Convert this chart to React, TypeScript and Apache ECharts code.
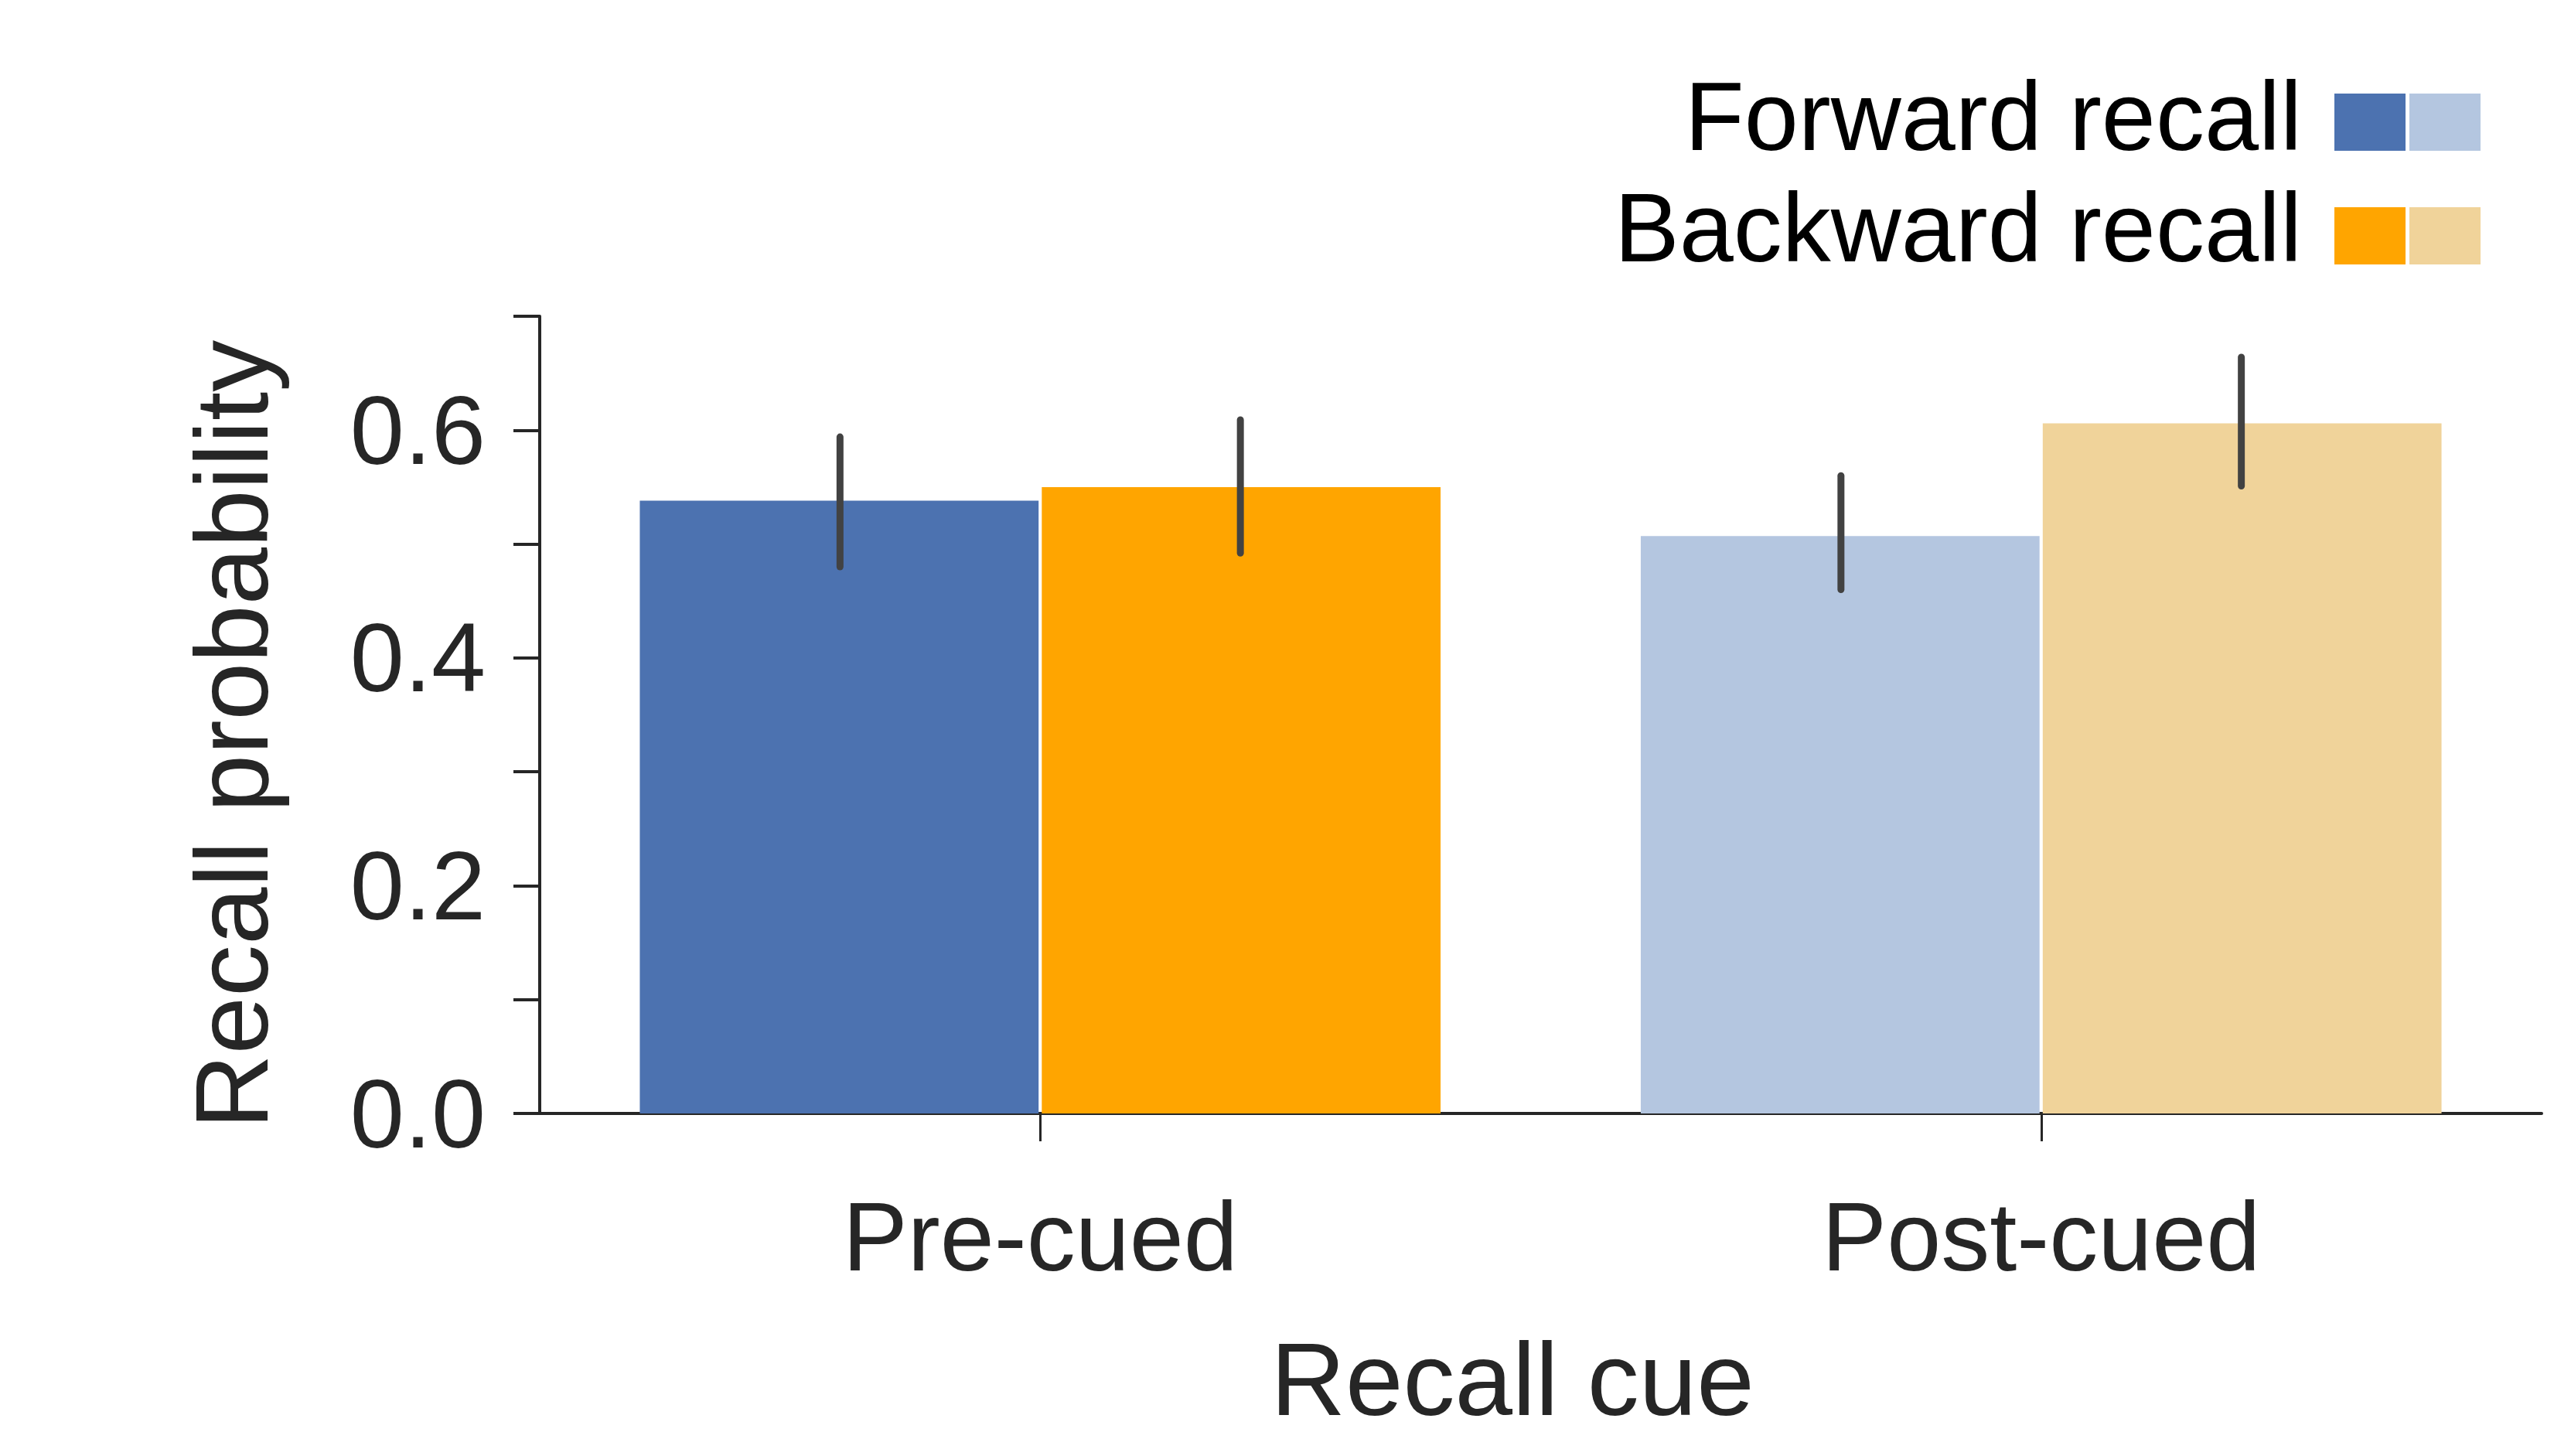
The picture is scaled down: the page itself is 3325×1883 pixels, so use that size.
import React, { useEffect, useRef } from "react";
import * as echarts from "echarts";

const categories = ["Pre-cued", "Post-cued"];
const forwardMeans = [0.538, 0.507];
const backwardMeans = [0.55, 0.606];
const forwardLow = [0.48, 0.46];
const forwardHigh = [0.594, 0.56];
const backwardLow = [0.492, 0.551];
const backwardHigh = [0.609, 0.664];
const yTickLabels = ["0.0", "", "0.2", "", "0.4", "", "0.6", ""];
const legendLabels = ["Forward recall", "Backward recall"];

const FONT = "'Liberation Sans', Arial, sans-serif";
const AXIS = "#262626";
const forwardColors = ["#4C72B0", "#B4C6E0"];
const backwardColors = ["#FFA500", "#F0D39A"];

export default function App() {
  const ref = useRef<HTMLDivElement>(null);
  useEffect(() => {
    if (!ref.current) return;
    const chart = echarts.init(ref.current, null, { renderer: "svg" });
    const errData: number[][] = [];
    categories.forEach((_, i) => {
      errData.push([i, forwardLow[i], forwardHigh[i], -1]);
      errData.push([i, backwardLow[i], backwardHigh[i], 1]);
    });
    const option: any = {
      animation: false,
      grid: { left: 698, right: 38, top: 409, bottom: 443, containLabel: false },
      xAxis: {
        type: "category",
        data: categories,
        axisLine: { show: true, lineStyle: { color: AXIS, width: 4 } },
        axisTick: { show: true, alignWithLabel: true, length: 36, lineStyle: { color: AXIS, width: 3 } },
        axisLabel: { fontSize: 126, color: AXIS, margin: 96, fontFamily: FONT },
        splitLine: { show: false },
      },
      yAxis: {
        type: "value",
        min: 0,
        max: 0.7,
        interval: 0.1,
        axisLine: { show: true, lineStyle: { color: AXIS, width: 4 } },
        axisTick: { show: true, length: 34, lineStyle: { color: AXIS, width: 4 } },
        axisLabel: {
          fontSize: 126,
          color: AXIS,
          margin: 70,
          fontFamily: FONT,
          formatter: (_v: number, idx: number) => yTickLabels[idx] ?? "",
        },
        splitLine: { show: false },
      },
      series: [
        {
          name: legendLabels[0],
          type: "bar",
          barCategoryGap: "20%",
          barGap: "0.8%",
          data: forwardMeans.map((v, i) => ({ value: v, itemStyle: { color: forwardColors[i] } })),
          z: 2,
        },
        {
          name: legendLabels[1],
          type: "bar",
          barCategoryGap: "20%",
          barGap: "0.8%",
          data: backwardMeans.map((v, i) => ({ value: v, itemStyle: { color: backwardColors[i] } })),
          z: 2,
        },
        {
          type: "custom",
          z: 5,
          data: errData,
          encode: { x: 0, y: [1, 2] },
          renderItem: (_params: any, api: any) => {
            const cat = api.value(0);
            const lo = api.value(1);
            const hi = api.value(2);
            const side = api.value(3);
            const band = api.size([1, 0])[0];
            const p1 = api.coord([cat, lo]);
            const p2 = api.coord([cat, hi]);
            const x = p1[0] + side * band * 0.2;
            return {
              type: "line",
              shape: { x1: x, y1: p1[1], x2: x, y2: p2[1] },
              style: { stroke: "#424242", lineWidth: 9, lineCap: "round" },
            };
          },
        },
      ],
      graphic: [
        {
          type: "text",
          x: 299,
          y: 950,
          rotation: Math.PI / 2,
          style: {
            text: "Recall probability",
            fontSize: 134,
            fontFamily: FONT,
            fill: AXIS,
            align: "center",
            verticalAlign: "middle",
          },
        },
        {
          type: "text",
          x: 1956,
          y: 1783,
          style: {
            text: "Recall cue",
            fontSize: 134,
            fontFamily: FONT,
            fill: AXIS,
            align: "center",
            verticalAlign: "middle",
          },
        },
        {
          type: "text",
          x: 2977,
          y: 150,
          style: { text: legendLabels[0], fontSize: 126, fontFamily: FONT, fill: "#000", align: "right", verticalAlign: "middle" },
        },
        {
          type: "text",
          x: 2977,
          y: 294,
          style: { text: legendLabels[1], fontSize: 126, fontFamily: FONT, fill: "#000", align: "right", verticalAlign: "middle" },
        },
        { type: "rect", shape: { x: 3019, y: 121, width: 92, height: 74 }, style: { fill: forwardColors[0] } },
        { type: "rect", shape: { x: 3116, y: 121, width: 92, height: 74 }, style: { fill: forwardColors[1] } },
        { type: "rect", shape: { x: 3019, y: 268, width: 92, height: 74 }, style: { fill: backwardColors[0] } },
        { type: "rect", shape: { x: 3116, y: 268, width: 92, height: 74 }, style: { fill: backwardColors[1] } },
      ],
    };
    chart.setOption(option);
    return () => chart.dispose();
  }, []);
  return (
    <div
      ref={ref}
      style={{ position: "fixed", left: 0, top: 0, width: 3325, height: 1883, background: "#fff" }}
    />
  );
}
